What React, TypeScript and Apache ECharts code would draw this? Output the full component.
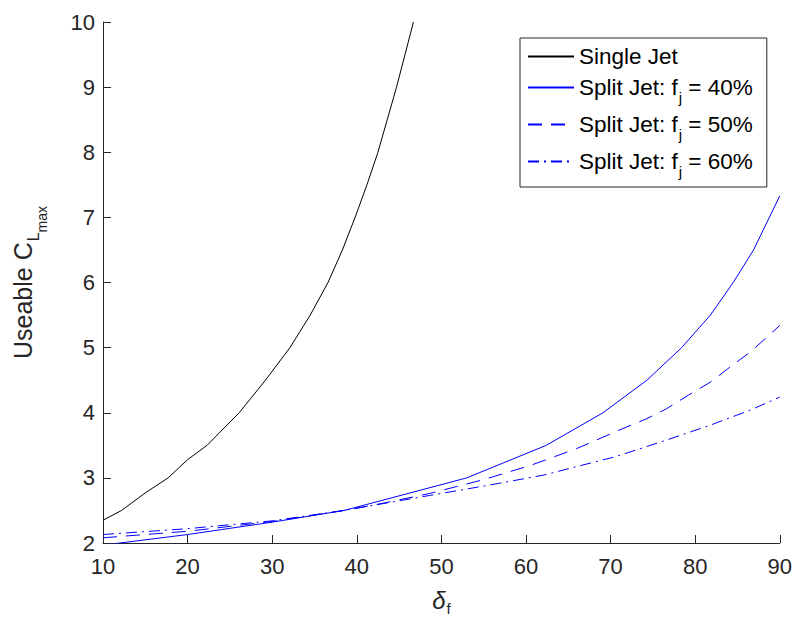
import { useEffect, useRef } from 'react';
import * as echarts from 'echarts';

const FONT = '"Liberation Sans", Arial, Helvetica, sans-serif';
const AXIS_COLOR = '#262626';

// Single jet (black, solid)
const singleX = [10, 12.2, 15, 17.7, 20, 22.3, 26.1, 29.2, 32.1, 34.5, 36.6, 38.3, 39.8, 41.2, 42.5, 43.6, 44.7, 45.7, 46.7];
const singleY = [2.35, 2.5, 2.77, 3.0, 3.28, 3.5, 4.0, 4.5, 5.0, 5.5, 6.0, 6.5, 7.0, 7.5, 8.0, 8.5, 9.0, 9.5, 10.0];

// Split jet fj = 40% (blue, solid)
const split40X = [10, 12, 20, 30, 38.5, 53, 62.4, 69.1, 74.3, 78.4, 81.8, 84.5, 86.9, 90];
const split40Y = [1.97, 2.0, 2.13, 2.32, 2.5, 3.0, 3.5, 4.0, 4.5, 5.0, 5.5, 6.0, 6.5, 7.33];

// Split jet fj = 50% (blue, dashed)
const split50X = [10, 20, 30, 38.5, 43.1, 48.6, 54.9, 60.5, 66, 71.5, 74.3, 76.6, 79.2, 81.8, 84.1, 86.5, 90];
const split50Y = [2.08, 2.18, 2.33, 2.5, 2.61, 2.76, 2.97, 3.19, 3.45, 3.76, 3.91, 4.06, 4.27, 4.47, 4.7, 4.93, 5.34];

// Split jet fj = 60% (blue, dash-dot)
const split60X = [10, 20, 30, 38.5, 48.6, 55.7, 62, 70.7, 76.6, 81.8, 86.5, 90];
const split60Y = [2.13, 2.22, 2.34, 2.5, 2.73, 2.89, 3.04, 3.33, 3.58, 3.81, 4.04, 4.24];

const seriesNames = ['Single Jet', 'Split Jet: fj = 40%', 'Split Jet: fj = 50%', 'Split Jet: fj = 60%'];

const zip = (xs: number[], ys: number[]) => xs.map((x, i) => [x, ys[i]]);

export default function App() {
  const ref = useRef<HTMLDivElement>(null);

  useEffect(() => {
    const chart = echarts.init(ref.current!, null, { renderer: 'svg' });

    const mkSeries = (name: string, xs: number[], ys: number[], color: string, type: any) => ({
      name,
      type: 'line',
      data: zip(xs, ys),
      symbol: 'none',
      showSymbol: false,
      color,
      clip: true,
      lineStyle: { color, width: 1, type },
      emphasis: { disabled: true },
    });

    chart.setOption({
      animation: false,
      backgroundColor: '#ffffff',
      grid: { left: 103, top: 22, right: 15, bottom: 76, containLabel: false },
      xAxis: {
        type: 'value',
        min: 10,
        max: 90,
        interval: 10,
        name: '{d|δ}{s|f}',
        nameLocation: 'middle',
        nameGap: 42,
        nameTextStyle: {
          rich: {
            d: { fontSize: 24, fontStyle: 'italic', fontFamily: FONT, color: AXIS_COLOR },
            s: { fontSize: 15, fontFamily: FONT, color: AXIS_COLOR, padding: [16, 0, 0, 1] },
          },
        },
        axisLine: { show: true, onZero: false, lineStyle: { color: AXIS_COLOR, width: 1 } },
        axisTick: { show: true, inside: true, length: 8, lineStyle: { color: AXIS_COLOR, width: 1 } },
        axisLabel: { fontSize: 22, fontFamily: FONT, color: AXIS_COLOR, margin: 12 },
        splitLine: { show: false },
      },
      yAxis: {
        type: 'value',
        min: 2,
        max: 10,
        interval: 1,
        name: '{t|Useable C}{a|L}{b|max}',
        nameLocation: 'middle',
        nameGap: 54,
        nameRotate: 90,
        nameTextStyle: {
          rich: {
            t: { fontSize: 25, fontFamily: FONT, color: AXIS_COLOR },
            a: { fontSize: 16, fontFamily: FONT, color: AXIS_COLOR, padding: [20, 0, 0, 1] },
            b: { fontSize: 14, fontFamily: FONT, color: AXIS_COLOR, padding: [38, 0, 0, 0] },
          },
        },
        axisLine: { show: true, onZero: false, lineStyle: { color: AXIS_COLOR, width: 1 } },
        axisTick: { show: true, inside: true, length: 8, lineStyle: { color: AXIS_COLOR, width: 1 } },
        axisLabel: { fontSize: 22, fontFamily: FONT, color: AXIS_COLOR, margin: 8 },
        splitLine: { show: false },
      },
      legend: {
        show: true,
        orient: 'vertical',
        left: 520,
        top: 38,
        padding: [7, 14, 8, 7],
        itemGap: 8,
        itemWidth: 46,
        itemHeight: 14,
        backgroundColor: '#ffffff',
        borderColor: AXIS_COLOR,
        borderWidth: 1,
        borderRadius: 0,
        selectedMode: false,
        itemStyle: { opacity: 0 },
        data: seriesNames,
        formatter: (name: string) => name.replace('fj', 'f{sub|j}'),
        textStyle: {
          fontSize: 22.5,
          fontFamily: FONT,
          color: '#000000',
          rich: {
            sub: { fontSize: 15, fontFamily: FONT, color: '#000000', padding: [20, 0, 0, 1] },
          },
        },
      },
      series: [
        mkSeries(seriesNames[0], singleX, singleY, '#000000', 'solid'),
        mkSeries(seriesNames[1], split40X, split40Y, '#0000ff', 'solid'),
        mkSeries(seriesNames[2], split50X, split50Y, '#0000ff', [14, 9]),
        mkSeries(seriesNames[3], split60X, split60Y, '#0000ff', [11, 5, 2, 5]),
      ],
    });

    return () => chart.dispose();
  }, []);

  return (
    <div
      ref={ref}
      style={{ position: 'fixed', left: 0, top: 0, width: 795, height: 621, background: '#ffffff' }}
    />
  );
}
